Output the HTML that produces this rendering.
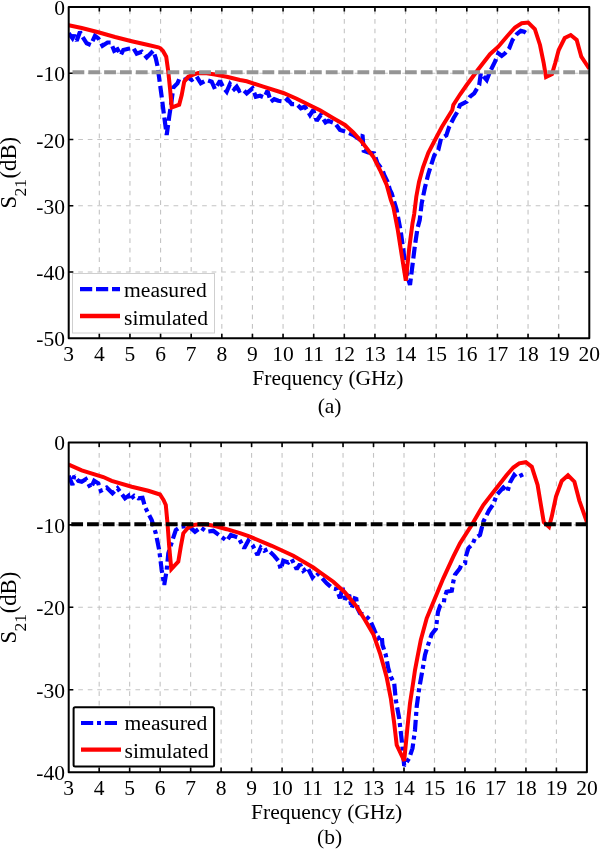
<!DOCTYPE html>
<html><head><meta charset="utf-8"><title>S21 measured vs simulated</title>
<style>
html,body{margin:0;padding:0;background:#fff}
body{width:600px;height:849px;overflow:hidden}
svg{display:block}
text{font-family:"Liberation Serif","Times New Roman",serif;font-size:21.5px;fill:#000}
.lg{font-size:21.6px}
.yl{font-size:22.7px}
.grid{fill:none;stroke:#c4c4c4;stroke-width:1.1;stroke-dasharray:4.7 4.83}
.ax{fill:none;stroke:#000;stroke-width:2;stroke-linejoin:round}
.tk{fill:none;stroke:#000;stroke-width:1.6}
.red{fill:none;stroke:#ff0000;stroke-width:4;stroke-linejoin:miter;stroke-miterlimit:3;stroke-linecap:butt}
.blue{fill:none;stroke:#0000ff;stroke-width:4.2;stroke-linejoin:miter;stroke-miterlimit:2;stroke-linecap:butt}
.m{text-anchor:middle}
.e{text-anchor:end}
</style></head><body>
<svg width="600" height="849" viewBox="0 0 600 849">
<rect width="600" height="849" fill="#fff"/>

<path class="grid" d="M99.32 338.30 V7.00 M129.95 338.30 V7.00 M160.57 338.30 V7.00 M191.19 338.30 V7.00 M221.82 338.30 V7.00 M252.44 338.30 V7.00 M283.06 338.30 V7.00 M313.69 338.30 V7.00 M344.31 338.30 V7.00 M374.94 338.30 V7.00 M405.56 338.30 V7.00 M436.18 338.30 V7.00 M466.81 338.30 V7.00 M497.43 338.30 V7.00 M528.05 338.30 V7.00 M558.68 338.30 V7.00 M68.70 73.26 H589.30 M68.70 139.52 H589.30 M68.70 205.78 H589.30 M68.70 272.04 H589.30"/>
<clipPath id="c7"><rect x="68.7" y="7.0" width="520.6" height="331.3"/></clipPath>
<g clip-path="url(#c7)">
<path class="blue" stroke-dasharray="11.8 4.2" d="M68.7 33.3 L72.5 38.3 L74.2 35.0 L76.7 40.8 L80.0 31.7 L82.5 36.7 L86.7 43.3 L90.8 45.0 L95.0 35.8 L98.3 38.3 L102.5 45.8 L107.5 42.5 L110.8 42.5 L114.2 50.8 L117.5 49.2 L120.8 55.0 L123.3 50.0 L128.3 48.7 L133.3 48.0 L136.7 53.7 L141.7 51.7 L146.7 57.5 L153.3 50.8 L155.8 58.3 L157.5 66.0 L159.2 78.3 L161.7 96.7 L164.2 116.7 L166.7 135.0 L169.2 116.7 L171.7 100.0 L173.3 87.5 L177.5 83.3 L179.2 79.2 L184.2 80.0 L188.3 77.5 L191.7 80.0 L196.7 76.7 L200.8 83.3 L206.7 80.0 L211.7 81.7 L215.0 89.2 L220.0 80.8 L223.3 87.5 L226.7 91.7 L230.0 84.0 L234.2 89.2 L236.7 86.7 L239.2 90.8 L242.5 89.2 L246.7 93.3 L252.5 88.3 L255.8 96.7 L260.0 95.8 L264.2 97.5 L267.5 90.8 L270.8 101.7 L274.2 99.2 L278.3 100.8 L285.0 101.7 L287.5 99.2 L291.7 104.2 L296.7 104.2 L300.8 108.3 L305.0 106.7 L310.0 115.0 L313.3 110.0 L316.7 120.8 L320.8 115.0 L325.5 122.5 L328.3 120.8 L335.0 123.3 L340.0 130.0 L345.8 131.7 L353.3 135.0 L359.0 139.0 L362.5 135.0 L363.7 150.8 L368.3 152.5 L374.2 153.3 L377.5 163.3 L382.5 170.0 L384.2 175.0 L387.5 181.7 L390.0 190.0 L391.7 193.3 L396.7 210.0 L400.8 231.7 L404.2 256.7 L407.5 276.7 L410.0 285.0 L412.5 265.0 L415.0 245.0 L417.5 228.3 L419.7 220.0 L421.7 203.3 L425.0 187.3 L428.3 174.0 L431.7 163.3 L434.3 155.3 L438.3 150.0 L441.0 138.7 L446.3 135.3 L449.0 127.3 L453.7 118.0 L457.7 111.3 L460.0 105.0 L466.7 101.7 L470.0 96.7 L474.2 93.3 L479.2 85.0 L480.8 73.3 L486.7 80.0 L490.0 71.7 L495.0 61.7 L498.3 53.3 L501.7 55.8 L505.0 53.3 L509.2 48.3 L512.5 40.0 L516.7 34.2 L520.8 30.8 L524.2 31.7 L528.5 34.5"/>
<path class="red" d="M68.7 25.3 L81.7 28.0 L98.3 32.3 L115.0 37.0 L131.7 41.2 L148.3 45.0 L158.3 47.3 L160.5 48.3 L163.0 51.0 L166.2 56.7 L168.3 71.7 L170.0 88.3 L171.7 107.5 L179.2 104.7 L181.7 95.0 L184.2 81.7 L188.3 76.7 L193.3 74.7 L198.3 72.9 L206.7 73.2 L215.0 74.5 L226.7 76.7 L240.0 80.0 L246.7 81.3 L263.3 86.7 L283.3 93.0 L296.7 98.7 L313.3 107.0 L320.0 110.3 L333.3 118.3 L345.0 125.0 L353.3 132.5 L361.7 141.7 L373.3 156.7 L380.0 170.0 L386.7 185.0 L390.8 200.0 L393.3 206.7 L397.5 228.3 L401.7 255.0 L405.8 280.8 L409.2 248.3 L412.5 223.3 L414.2 214.0 L416.3 196.7 L419.0 182.0 L423.0 167.3 L428.3 152.7 L435.0 140.0 L441.7 127.3 L452.3 110.0 L453.3 105.0 L460.0 94.5 L466.7 85.0 L478.3 69.2 L490.0 54.2 L498.3 46.7 L506.7 36.7 L515.0 27.5 L521.7 23.3 L528.2 22.5 L534.8 29.0 L540.0 45.0 L543.6 62.5 L546.0 77.0 L552.0 74.0 L555.3 62.7 L558.7 50.0 L564.7 38.0 L570.7 35.0 L576.7 40.0 L581.3 56.7 L589.3 68.7"/>
</g>
<rect x="72.5" y="273.5" width="142" height="59.5" fill="#fff" stroke="#cfcfcf" stroke-width="1"/>
<path d="M80 289.1 H120" fill="none" stroke="#0000ff" stroke-width="4.2" stroke-dasharray="12.2 3.8"/>
<path d="M80 316 H120" fill="none" stroke="#ff0000" stroke-width="4.3"/>
<text class="lg" x="124" y="297">measured</text>
<text class="lg" x="124" y="325.4">simulated</text>
<path class="tk" d="M99.32 338.30 v-4.6 M99.32 7.00 v4.6 M129.95 338.30 v-4.6 M129.95 7.00 v4.6 M160.57 338.30 v-4.6 M160.57 7.00 v4.6 M191.19 338.30 v-4.6 M191.19 7.00 v4.6 M221.82 338.30 v-4.6 M221.82 7.00 v4.6 M252.44 338.30 v-4.6 M252.44 7.00 v4.6 M283.06 338.30 v-4.6 M283.06 7.00 v4.6 M313.69 338.30 v-4.6 M313.69 7.00 v4.6 M344.31 338.30 v-4.6 M344.31 7.00 v4.6 M374.94 338.30 v-4.6 M374.94 7.00 v4.6 M405.56 338.30 v-4.6 M405.56 7.00 v4.6 M436.18 338.30 v-4.6 M436.18 7.00 v4.6 M466.81 338.30 v-4.6 M466.81 7.00 v4.6 M497.43 338.30 v-4.6 M497.43 7.00 v4.6 M528.05 338.30 v-4.6 M528.05 7.00 v4.6 M558.68 338.30 v-4.6 M558.68 7.00 v4.6 M68.70 73.26 h4.6 M589.30 73.26 h-4.6 M68.70 139.52 h4.6 M589.30 139.52 h-4.6 M68.70 205.78 h4.6 M589.30 205.78 h-4.6 M68.70 272.04 h4.6 M589.30 272.04 h-4.6"/>
<path d="M72.5 72.3 H589.3" fill="none" stroke="#959595" stroke-width="3.9" stroke-dasharray="11.8 4.03"/>
<rect class="ax" x="68.70" y="7.00" width="520.60" height="331.30"/>
<text class="e" x="64.9" y="15.0">0</text>
<text class="e" x="64.9" y="81.3">-10</text>
<text class="e" x="64.9" y="147.5">-20</text>
<text class="e" x="64.9" y="213.8">-30</text>
<text class="e" x="64.9" y="280.0">-40</text>
<text class="e" x="64.9" y="346.3">-50</text>
<text class="m" x="68.7" y="361.2">3</text>
<text class="m" x="99.3" y="361.2">4</text>
<text class="m" x="129.9" y="361.2">5</text>
<text class="m" x="160.6" y="361.2">6</text>
<text class="m" x="191.2" y="361.2">7</text>
<text class="m" x="221.8" y="361.2">8</text>
<text class="m" x="252.4" y="361.2">9</text>
<text class="m" x="283.1" y="361.2">10</text>
<text class="m" x="313.7" y="361.2">11</text>
<text class="m" x="344.3" y="361.2">12</text>
<text class="m" x="374.9" y="361.2">13</text>
<text class="m" x="405.6" y="361.2">14</text>
<text class="m" x="436.2" y="361.2">15</text>
<text class="m" x="466.8" y="361.2">16</text>
<text class="m" x="497.4" y="361.2">17</text>
<text class="m" x="528.1" y="361.2">18</text>
<text class="m" x="558.7" y="361.2">19</text>
<text class="m" x="589.3" y="361.2">20</text>
<text class="m" x="327.8" y="385.3">Frequency (GHz)</text>
<text class="m" x="329.6" y="413.0">(a)</text>
<text class="m yl" transform="translate(16.2 172.7) rotate(-90)">S<tspan font-size="17.5px" dy="9.8" dx="-0.6">21</tspan><tspan dy="-9.8" dx="0.6">(dB)</tspan></text>
<path class="grid" d="M99.18 772.20 V442.40 M129.66 772.20 V442.40 M160.15 772.20 V442.40 M190.63 772.20 V442.40 M221.11 772.20 V442.40 M251.59 772.20 V442.40 M282.08 772.20 V442.40 M312.56 772.20 V442.40 M343.04 772.20 V442.40 M373.52 772.20 V442.40 M404.01 772.20 V442.40 M434.49 772.20 V442.40 M464.97 772.20 V442.40 M495.45 772.20 V442.40 M525.94 772.20 V442.40 M556.42 772.20 V442.40 M68.70 524.85 H586.90 M68.70 607.30 H586.90 M68.70 689.75 H586.90"/>
<clipPath id="c442"><rect x="68.7" y="442.4" width="518.2" height="329.8"/></clipPath>
<g clip-path="url(#c442)">
<path class="blue" stroke-dasharray="11.8 4 4 4" d="M68.7 475.8 L72.5 485.0 L74.2 475.8 L78.3 480.8 L81.7 481.7 L85.8 479.2 L90.8 488.3 L94.2 480.8 L98.3 483.3 L100.8 490.8 L106.7 487.5 L112.5 493.3 L117.5 488.3 L120.0 491.7 L125.0 498.3 L128.3 495.8 L129.2 500.0 L134.2 495.8 L138.3 498.3 L142.5 497.8 L145.0 506.7 L147.5 512.0 L151.7 520.0 L155.8 533.3 L159.2 550.0 L161.7 570.0 L164.2 585.0 L166.7 570.0 L168.3 553.3 L172.5 540.0 L175.8 530.0 L180.8 526.7 L188.3 525.8 L195.0 531.7 L200.8 527.5 L206.7 531.7 L213.3 530.8 L220.0 535.8 L226.7 540.8 L230.8 535.0 L238.3 537.5 L244.2 548.3 L248.3 540.8 L252.5 545.0 L257.5 555.0 L260.8 547.5 L264.2 550.8 L267.5 549.2 L274.2 555.8 L278.3 560.8 L280.8 569.2 L283.3 560.8 L288.3 562.5 L291.7 559.2 L296.7 569.2 L300.0 564.2 L303.3 570.8 L307.5 567.5 L312.5 577.5 L316.7 572.5 L321.0 577.0 L326.7 583.3 L332.5 588.3 L336.7 589.2 L340.0 598.3 L342.5 587.5 L345.0 599.2 L349.2 595.0 L351.7 608.3 L355.8 595.0 L357.5 608.3 L360.0 613.3 L365.0 615.0 L370.0 620.0 L375.0 631.7 L378.3 638.3 L381.7 635.8 L382.5 645.0 L385.8 655.0 L388.3 668.3 L390.8 676.7 L394.2 683.3 L395.8 700.0 L399.2 718.3 L401.7 740.0 L404.2 765.8 L409.2 758.3 L412.5 748.3 L415.0 730.0 L416.7 706.7 L419.2 688.3 L422.5 670.0 L425.0 655.0 L427.4 647.0 L429.5 640.6 L431.7 634.2 L435.9 628.9 L437.0 619.4 L438.0 612.0 L440.1 605.6 L443.9 602.4 L444.4 598.2 L446.5 591.8 L451.8 590.8 L453.4 581.2 L455.0 574.8 L459.8 568.5 L461.4 564.8 L465.1 563.2 L465.8 556.7 L468.3 548.3 L472.5 544.2 L475.0 538.3 L480.0 535.0 L483.3 521.7 L489.2 510.0 L493.3 504.2 L496.7 495.0 L503.3 487.5 L507.5 491.7 L510.0 482.5 L514.2 475.0 L516.7 477.5 L523.3 474.2 L525.8 474.2"/>
<path class="red" d="M68.7 464.5 L81.7 470.3 L103.3 477.0 L111.7 480.8 L131.7 486.7 L148.3 490.8 L160.0 494.5 L163.5 500.0 L165.8 505.0 L167.5 523.3 L169.2 546.7 L171.3 569.2 L178.3 561.7 L180.8 546.7 L183.3 533.3 L188.3 527.5 L195.0 524.7 L201.0 524.3 L206.7 524.5 L215.0 526.0 L226.7 529.2 L240.0 533.2 L250.0 536.7 L271.7 545.8 L293.3 555.8 L313.3 567.5 L320.0 572.3 L333.3 581.7 L345.0 592.5 L356.7 606.7 L365.0 620.0 L373.3 634.2 L380.0 653.3 L384.2 668.3 L386.7 677.5 L390.8 698.3 L394.2 723.3 L396.7 745.0 L404.2 760.8 L407.5 726.7 L410.0 703.3 L413.3 681.7 L415.0 670.0 L417.5 657.0 L420.8 640.0 L426.7 618.3 L435.0 598.3 L443.3 578.3 L453.3 556.7 L460.0 543.3 L471.7 525.0 L483.3 505.0 L495.0 490.0 L506.7 475.0 L513.3 467.5 L519.2 463.3 L525.8 462.2 L531.8 466.8 L537.6 485.0 L541.0 505.5 L543.8 522.3 L549.0 526.9 L551.8 516.3 L556.0 496.5 L561.7 481.0 L568.0 475.3 L574.4 481.7 L579.4 500.8 L586.4 520.6 L587.1 522.0"/>
</g>
<rect x="73.6" y="707.3" width="140.5" height="59.1" rx="1.5" fill="#fff" stroke="#000" stroke-width="2"/>
<path d="M81 723 H117" fill="none" stroke="#0000ff" stroke-width="4" stroke-dasharray="12.2 3.8 4 3.8"/>
<path d="M81 749.6 H121" fill="none" stroke="#ff0000" stroke-width="4.3"/>
<text class="lg" x="124.5" y="729.7">measured</text>
<text class="lg" x="124.5" y="758.2">simulated</text>
<path class="tk" d="M99.18 772.20 v-4.6 M99.18 442.40 v4.6 M129.66 772.20 v-4.6 M129.66 442.40 v4.6 M160.15 772.20 v-4.6 M160.15 442.40 v4.6 M190.63 772.20 v-4.6 M190.63 442.40 v4.6 M221.11 772.20 v-4.6 M221.11 442.40 v4.6 M251.59 772.20 v-4.6 M251.59 442.40 v4.6 M282.08 772.20 v-4.6 M282.08 442.40 v4.6 M312.56 772.20 v-4.6 M312.56 442.40 v4.6 M343.04 772.20 v-4.6 M343.04 442.40 v4.6 M373.52 772.20 v-4.6 M373.52 442.40 v4.6 M404.01 772.20 v-4.6 M404.01 442.40 v4.6 M434.49 772.20 v-4.6 M434.49 442.40 v4.6 M464.97 772.20 v-4.6 M464.97 442.40 v4.6 M495.45 772.20 v-4.6 M495.45 442.40 v4.6 M525.94 772.20 v-4.6 M525.94 442.40 v4.6 M556.42 772.20 v-4.6 M556.42 442.40 v4.6 M68.70 524.85 h4.6 M586.90 524.85 h-4.6 M68.70 607.30 h4.6 M586.90 607.30 h-4.6 M68.70 689.75 h4.6 M586.90 689.75 h-4.6"/>
<path d="M71.3 524.3 H586.9" fill="none" stroke="#000" stroke-width="3.9" stroke-dasharray="11.75 4.01"/>
<rect class="ax" x="68.70" y="442.40" width="518.20" height="329.80"/>
<text class="e" x="64.9" y="450.4">0</text>
<text class="e" x="64.9" y="532.9">-10</text>
<text class="e" x="64.9" y="615.3">-20</text>
<text class="e" x="64.9" y="697.8">-30</text>
<text class="e" x="64.9" y="780.2">-40</text>
<text class="m" x="68.7" y="794.9">3</text>
<text class="m" x="99.2" y="794.9">4</text>
<text class="m" x="129.7" y="794.9">5</text>
<text class="m" x="160.1" y="794.9">6</text>
<text class="m" x="190.6" y="794.9">7</text>
<text class="m" x="221.1" y="794.9">8</text>
<text class="m" x="251.6" y="794.9">9</text>
<text class="m" x="282.1" y="794.9">10</text>
<text class="m" x="312.6" y="794.9">11</text>
<text class="m" x="343.0" y="794.9">12</text>
<text class="m" x="373.5" y="794.9">13</text>
<text class="m" x="404.0" y="794.9">14</text>
<text class="m" x="434.5" y="794.9">15</text>
<text class="m" x="465.0" y="794.9">16</text>
<text class="m" x="495.5" y="794.9">17</text>
<text class="m" x="525.9" y="794.9">18</text>
<text class="m" x="556.4" y="794.9">19</text>
<text class="m" x="586.9" y="794.9">20</text>
<text class="m" x="326.6" y="818.6">Frequency (GHz)</text>
<text class="m" x="329.6" y="843.8">(b)</text>
<text class="m yl" transform="translate(16.2 607.6) rotate(-90)">S<tspan font-size="17.5px" dy="9.8" dx="-0.6">21</tspan><tspan dy="-9.8" dx="0.6">(dB)</tspan></text>
</svg></body></html>
